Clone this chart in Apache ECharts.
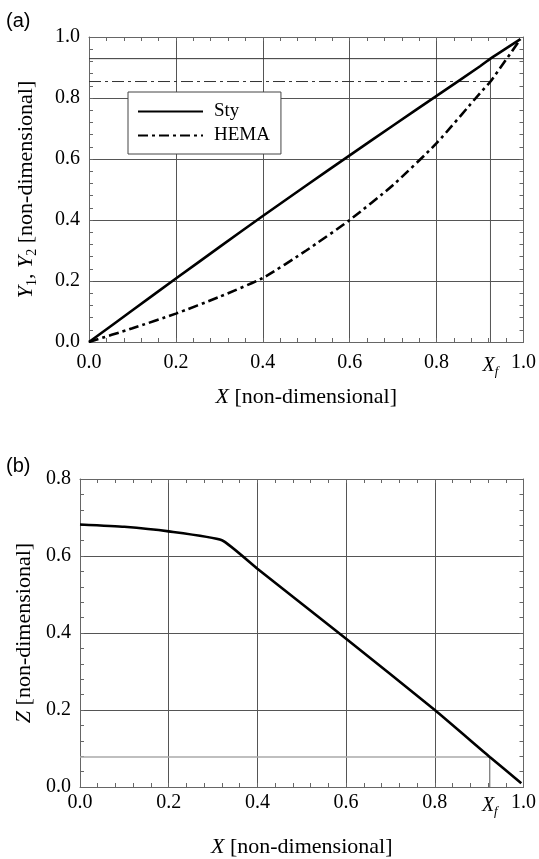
<!DOCTYPE html>
<html>
<head>
<meta charset="utf-8">
<script src="https://cdn.jsdelivr.net/npm/echarts@6/dist/echarts.min.js"></script>
<style>
  html, body { margin: 0; padding: 0; background: #fff; }
  #main { width: 539px; height: 859px; }
</style>
</head>
<body>
<div id="main"></div>
<script>
// ---------- data ----------
const XF = 0.924;                    // feed conversion X_f
const Y1F = 0.929;                   // Sty composition at X_f
const Y2F = 0.854;                   // HEMA composition at X_f
const ZF = 0.078;                    // Z at X_f

const xTop = [0, 0.1, 0.2, 0.3, 0.4, 0.5, 0.6, 0.7, 0.8, 0.9, 0.924, 0.993];
const ySty = [0, 0.104, 0.208, 0.311, 0.413, 0.513, 0.612, 0.710, 0.807, 0.904, 0.929, 0.993];
const yHema = [0, 0.045, 0.093, 0.148, 0.21, 0.30, 0.40, 0.515, 0.652, 0.816, 0.854, 0.993];

const xBot = [0, 0.1, 0.2, 0.32, 0.4, 0.6, 0.8, 0.924, 0.995];
const zVals = [0.682, 0.676, 0.664, 0.641, 0.567, 0.385, 0.2, 0.078, 0.01];

const xTickLabels = [0, 0.2, 0.4, 0.6, 0.8, XF, 1.0];
const yTopTicks = [0, 0.2, 0.4, 0.6, 0.8, 1.0];
const yBotTicks = [0, 0.2, 0.4, 0.6, 0.8];

// ---------- helpers ----------
const SERIF = '"Liberation Serif", "Times New Roman", serif';
const pair = (xs, ys) => xs.map((x, i) => [x, ys[i]]);
const GRIDC = '#555';
const TICKC = '#666';

const richName = {
  i: { fontFamily: SERIF, fontStyle: 'italic', fontSize: 22, color: '#000' },
  n: { fontFamily: SERIF, fontSize: 22, color: '#000' },
  s: { fontFamily: SERIF, fontSize: 14, color: '#000', padding: [12, 0, 0, 0] }
};
const richLabel = {
  i: { fontFamily: SERIF, fontStyle: 'italic', fontSize: 20, color: '#000' },
  s: { fontFamily: SERIF, fontStyle: 'italic', fontSize: 13, color: '#000', padding: [12, 0, 0, 0] }
};

const tickCommon = {
  axisLine: { show: true, onZero: false, lineStyle: { color: TICKC, width: 1 } },
  axisTick: { show: true, inside: true, length: 4, lineStyle: { color: TICKC } },
  minorTick: { show: true, splitNumber: 5, length: 4, lineStyle: { color: TICKC } }
};

function xAxisMain(gridIndex, margin, nameGap) {
  return Object.assign({
    type: 'value', gridIndex, min: 0, max: 1, interval: 0.2, position: 'bottom',
    splitLine: { show: true, lineStyle: { color: GRIDC, width: 1 } },
    axisLabel: {
      customValues: xTickLabels,
      margin,
      fontFamily: SERIF, fontSize: 20, color: '#000',
      formatter: v => (Math.abs(v - XF) < 1e-6 ? '{i|X}{s|f}' : v.toFixed(1)),
      rich: richLabel
    },
    name: '{i|X}{n| [non-dimensional]}',
    nameLocation: 'middle', nameGap,
    nameTextStyle: { rich: richName }
  }, tickCommon);
}
function xAxisTop(gridIndex) {
  return Object.assign({
    type: 'value', gridIndex, min: 0, max: 1, interval: 0.2, position: 'top',
    splitLine: { show: false }, axisLabel: { show: false }
  }, tickCommon);
}
function yAxisMain(gridIndex, max, ticks, name, nameGap) {
  return Object.assign({
    type: 'value', gridIndex, min: 0, max, interval: 0.2, position: 'left',
    splitLine: { show: true, lineStyle: { color: GRIDC, width: 1 } },
    axisLabel: {
      customValues: ticks, margin: 9,
      fontFamily: SERIF, fontSize: 20, color: '#000',
      formatter: v => v.toFixed(1)
    },
    name, nameLocation: 'middle', nameGap, nameRotate: 90,
    nameTextStyle: { rich: richName }
  }, tickCommon);
}
function yAxisRight(gridIndex, max) {
  return Object.assign({
    type: 'value', gridIndex, min: 0, max, interval: 0.2, position: 'right',
    splitLine: { show: false }, axisLabel: { show: false }
  }, tickCommon);
}
function refLine(xAxisIndex, yAxisIndex, data, color, width, type) {
  return {
    type: 'line', xAxisIndex, yAxisIndex, data, symbol: 'none', silent: true,
    lineStyle: { color, width, type: type || 'solid' }, z: 1
  };
}

const chart = echarts.init(document.getElementById('main'), null, { renderer: 'canvas' });
chart.setOption({
  animation: false,
  backgroundColor: '#fff',
  grid: [
    { left: 89, top: 37, width: 436, height: 305, containLabel: false },
    { left: 80, top: 479, width: 444, height: 310, containLabel: false }
  ],
  legend: {
    data: ['Sty', 'HEMA'],
    orient: 'vertical', left: 128, top: 92,
    padding: [10, 11, 9, 9],
    itemWidth: 65, itemHeight: 14, itemGap: 5,
    itemStyle: { opacity: 0 },
    backgroundColor: '#fff', borderColor: '#444', borderWidth: 1,
    textStyle: { fontFamily: SERIF, fontSize: 19, color: '#000', padding: [0, 0, 0, 6] }
  },
  xAxis: [xAxisMain(0, 11, 44), xAxisTop(0), xAxisMain(1, 6, 49), xAxisTop(1)],
  yAxis: [
    yAxisMain(0, 1, yTopTicks, '{i|Y}{s|1}{n|, }{i|Y}{s|2}{n| [non-dimensional]}', 50),
    yAxisRight(0, 1),
    yAxisMain(1, 0.8, yBotTicks, '{i|Z}{n| [non-dimensional]}', 45),
    yAxisRight(1, 0.8)
  ],
  graphic: [
    { type: 'text', left: 6, top: 11, style: { text: '(a)', font: '20px "Liberation Sans", Arial, sans-serif', fill: '#000' } },
    { type: 'text', left: 6, top: 456, style: { text: '(b)', font: '20px "Liberation Sans", Arial, sans-serif', fill: '#000' } }
  ],
  series: [
    refLine(0, 0, [[0, Y1F], [1, Y1F]], '#333', 1),
    refLine(0, 0, [[0, Y2F], [XF, Y2F]], '#333', 1, [12, 4, 3, 4]),
    refLine(0, 0, [[XF, 0], [XF, Y1F]], GRIDC, 1),
    {
      name: 'Sty', type: 'line', xAxisIndex: 0, yAxisIndex: 0,
      data: pair(xTop, ySty), symbol: 'none', smooth: 0.2,
      lineStyle: { color: '#000', width: 2.6 }, itemStyle: { color: '#000' }, z: 5
    },
    {
      name: 'HEMA', type: 'line', xAxisIndex: 0, yAxisIndex: 0,
      data: pair(xTop, yHema), symbol: 'none', smooth: 0.2,
      lineStyle: { color: '#000', width: 2.6, type: [10, 4, 3, 4] }, itemStyle: { color: '#000' }, z: 5
    },
    refLine(2, 2, [[0, ZF], [XF, ZF]], '#aaa', 1.5),
    refLine(2, 2, [[XF, 0], [XF, ZF]], GRIDC, 1),
    {
      name: 'Z', type: 'line', xAxisIndex: 2, yAxisIndex: 2,
      data: pair(xBot, zVals), symbol: 'none', smooth: 0.15,
      lineStyle: { color: '#000', width: 2.6 }, itemStyle: { color: '#000' }, z: 5
    }
  ]
});
</script>
</body>
</html>
